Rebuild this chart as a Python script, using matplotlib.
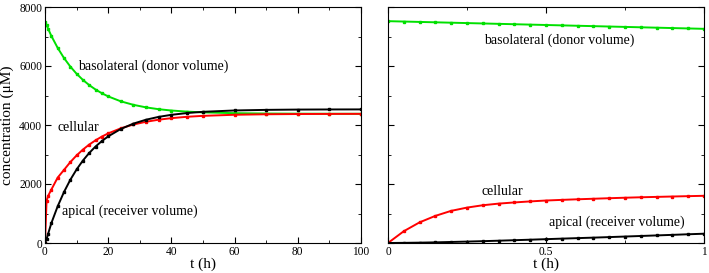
import matplotlib
matplotlib.use("Agg")
import matplotlib.pyplot as plt
from matplotlib.ticker import MultipleLocator

plt.rcParams['font.family'] = ['Liberation Serif', 'DejaVu Serif']

# long time scale (h)
t_long = [0, 0.5, 1, 2, 4, 6, 8, 10, 12, 14, 16, 18, 20, 24, 28, 32, 36, 40, 45, 50,
          60, 70, 80, 90, 100]
basolateral_long = [7500, 7390, 7260, 7021, 6616, 6272, 5982, 5736, 5528, 5352, 5202, 5076,
                    4969, 4802, 4683, 4597, 4535, 4491, 4453, 4428, 4401, 4389, 4384, 4381, 4380]
cellular_long = [0, 1440, 1600, 1808, 2215, 2477, 2741, 2969, 3167, 3337, 3481, 3608,
                 3715, 3888, 4017, 4110, 4180, 4232, 4279, 4310, 4347, 4364, 4372, 4376, 4378]
apical_long = [0, 135, 315, 670, 1241, 1726, 2141, 2494, 2795, 3053, 3271, 3456,
               3615, 3866, 4048, 4180, 4276, 4345, 4406, 4447, 4493, 4513, 4523, 4527, 4529]

# short time scale (h)
t_short = [0, 0.05, 0.1, 0.15, 0.2, 0.25, 0.3, 0.35, 0.4, 0.45, 0.5,
           0.55, 0.6, 0.65, 0.7, 0.75, 0.8, 0.85, 0.9, 0.95, 1.0]
basolateral_short = [7520, 7507, 7494, 7481, 7468, 7455, 7442, 7429, 7416, 7403, 7390,
                     7377, 7364, 7351, 7338, 7325, 7312, 7299, 7286, 7273, 7260]
cellular_short = [0, 400, 700, 920, 1090, 1200, 1280, 1335, 1375, 1410, 1440,
                  1462, 1482, 1500, 1518, 1535, 1550, 1563, 1576, 1588, 1600]
apical_short = [0, 5, 12, 22, 35, 48, 62, 78, 95, 112, 130,
                148, 165, 182, 200, 219, 238, 257, 276, 296, 315]

GREEN = '#00e000'
RED = '#ff0000'
BLACK = '#000000'

fig = plt.figure(figsize=(7.09, 2.73), dpi=100)
ax1 = fig.add_axes([45 / 709, 30 / 273, 316 / 709, 236 / 273])
ax2 = fig.add_axes([388 / 709, 30 / 273, 316 / 709, 236 / 273])

for ax, t, b, c, a in [(ax1, t_long, basolateral_long, cellular_long, apical_long),
                       (ax2, t_short, basolateral_short, cellular_short, apical_short)]:
    ax.plot(t, b, color=GREEN, lw=1.4, marker='s', ms=1.8)
    ax.plot(t, c, color=RED, lw=1.4, marker='s', ms=1.8)
    ax.plot(t, a, color=BLACK, lw=1.4, marker='s', ms=1.8)
    ax.set_ylim(0, 8000)
    ax.yaxis.set_major_locator(MultipleLocator(2000))
    ax.yaxis.set_minor_locator(MultipleLocator(1000))
    ax.tick_params(which='both', direction='in', top=True, right=True, labelsize=8.3, pad=2)
    ax.tick_params(which='major', length=4)
    ax.tick_params(which='minor', length=2)
    ax.set_xlabel('t (h)', fontsize=11, labelpad=0)

ax1.set_xlim(0, 100)
ax1.xaxis.set_major_locator(MultipleLocator(20))
ax1.xaxis.set_minor_locator(MultipleLocator(10))
ax1.set_ylabel('concentration (μM)', fontsize=11)
ax1.yaxis.set_label_coords(-0.098, 0.5)

ax2.set_xlim(0, 1)
ax2.xaxis.set_major_locator(MultipleLocator(0.5))
ax2.xaxis.set_minor_locator(MultipleLocator(0.25))
ax2.xaxis.set_major_formatter(plt.FuncFormatter(lambda v, p: '%g' % v))
ax2.tick_params(labelleft=False)

ax1.text(10.5, 6000, 'basolateral (donor volume)', fontsize=10, va='center')
ax1.text(3.8, 3930, 'cellular', fontsize=10, va='center')
ax1.text(5.4, 1085, 'apical (receiver volume)', fontsize=10, va='center')

ax2.text(0.304, 6880, 'basolateral (donor volume)', fontsize=10, va='center')
ax2.text(0.297, 1730, 'cellular', fontsize=10, va='center')
ax2.text(0.51, 710, 'apical (receiver volume)', fontsize=10, va='center')

fig.savefig('out.png', dpi=100)
